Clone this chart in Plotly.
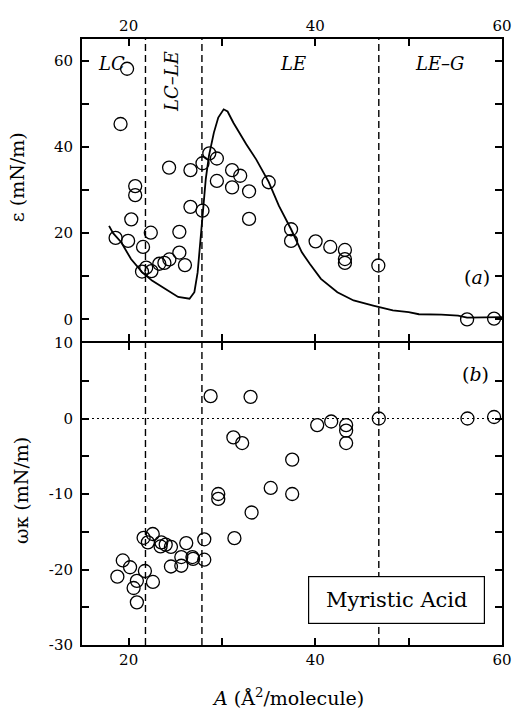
import plotly.graph_objects as go

# Continuous elasticity curve, panel (a)
curve_A = [17.9, 18.33, 19.2, 20.25, 21.46, 22.5, 23.9, 25.3, 26.52, 27.04,
           27.39, 27.73, 27.98, 28.26, 28.6, 29.13, 29.6, 30.18, 30.6, 31.22, 32.6,
           33.66, 35.0, 36.1, 37.4, 38.54, 39.4, 40.6, 42.36, 44.1, 46.2, 48.3, 50.0,
           51.1, 53.5, 55.3, 56.26, 59.4, 60.0]
curve_eps = [21.7, 20.0, 17.9, 14.0, 10.9, 9.0, 7.1, 5.2, 4.8, 6.3,
             10.9, 19.4, 25.6, 32.5, 37.9, 43.3, 46.8, 48.7, 48.2, 45.6, 40.6,
             37.1, 31.9, 26.3, 20.9, 15.6, 12.9, 9.4, 6.3, 4.4, 3.2, 2.1, 1.7,
             1.2, 1.1, 0.9, 0.4, 0.55, 0.55]

# Measured elasticity ε, panel (a)
eps_A = [19.83, 19.13, 18.6, 19.94, 20.28, 20.7, 20.7, 21.54, 21.43, 21.88, 22.44,
         22.37, 23.28, 23.83, 24.36, 24.33, 25.43, 25.43, 26.03, 26.62, 26.62, 27.91,
         27.91, 28.64, 29.45, 29.45, 31.08, 31.08, 31.95, 32.9, 32.9, 35.0, 37.4,
         37.4, 40.03, 41.6, 43.17, 43.17, 43.17, 46.75, 56.26, 59.15]
eps_val = [58.1, 45.3, 18.9, 18.2, 23.2, 30.9, 28.8, 16.8, 11.1, 12.0, 11.2,
           20.1, 12.9, 13.1, 13.9, 35.2, 20.3, 15.5, 12.6, 26.1, 34.6, 36.2,
           25.2, 38.5, 37.3, 32.1, 34.6, 30.6, 33.3, 29.7, 23.3, 31.8, 20.9,
           18.2, 18.1, 16.8, 16.1, 14.0, 13.1, 12.5, 0.0, 0.2]

# Measured ωκ, panel (b)
wk_A = [28.78, 33.06, 31.22, 32.16, 37.52, 35.22, 37.52, 29.6, 29.6, 33.17, 31.33,
        28.1, 28.1, 26.83, 26.9, 26.17, 25.64, 25.64, 24.53, 24.53, 23.97, 23.49,
        23.42, 22.58, 22.06, 21.6, 21.74, 22.6, 20.88, 20.53, 20.88, 20.15, 19.37,
        18.79, 40.2, 41.7, 43.3, 43.3, 43.3, 46.8, 56.3, 59.15]
wk_val = [2.96, 2.87, -2.5, -3.25, -5.45, -9.2, -10.0, -10.0, -10.65, -12.45, -15.85,
          -16.0, -18.7, -18.35, -18.6, -16.5, -18.35, -19.5, -19.6, -17.0, -16.7, -16.4,
          -16.95, -15.3, -16.4, -15.8, -20.2, -21.65, -21.5, -22.45, -24.35, -19.7, -18.8,
          -20.95, -0.87, -0.4, -0.87, -1.6, -3.25, 0.0, 0.0, 0.2]

# Phase boundaries (Å²/molecule) and region names
phase_bounds = [21.8, 27.85, 46.8]
phase_labels = ["LC", "LC–LE", "LE", "LE–G"]
phase_label_A = [18.2, 24.57, 37.6, 53.25]

# Tick positions; unlabeled ones are intermediate ticks
x_ticks = [20, 30, 40, 50, 60]
x_ticktext = ["20", "", "40", "", "60"]
eps_ticks = [0, 10, 20, 30, 40, 50, 60]
eps_ticktext = ["0", "", "20", "", "40", "", "60"]
wk_ticks = [-30, -25, -20, -15, -10, -5, 0, 5, 10]
wk_ticktext = ["-30", "", "-20", "", "-10", "", "0", "", "10"]

SERIF = "DejaVu Serif"
marker_style = dict(symbol="circle-open", size=13, color="black",
                    line=dict(width=1.3, color="black"))

fig = go.Figure()
fig.add_trace(go.Scatter(x=curve_A, y=curve_eps, mode="lines",
                         line=dict(color="black", width=1.8), xaxis="x2", yaxis="y2",
                         showlegend=False))
fig.add_trace(go.Scatter(x=eps_A, y=eps_val, mode="markers", marker=marker_style,
                         xaxis="x2", yaxis="y2", showlegend=False))
fig.add_trace(go.Scatter(x=wk_A, y=wk_val, mode="markers", marker=marker_style,
                         xaxis="x", yaxis="y", showlegend=False))

shapes = []
for b in phase_bounds:
    shapes.append(dict(type="line", xref="x", yref="paper", x0=b, x1=b, y0=0, y1=1,
                       line=dict(color="black", width=1.4, dash="7px,4px")))
shapes.append(dict(type="line", xref="x", yref="y", x0=15, x1=60, y0=0, y1=0,
                   line=dict(color="black", width=1.2, dash="2px,3px")))

annotations = []
for lbl, a in zip(phase_labels, phase_label_A):
    if lbl == "LC–LE":
        annotations.append(dict(x=a, y=55.1, xref="x2", yref="y2", text=f"<i>{lbl}</i>",
                                showarrow=False, textangle=-90,
                                font=dict(family=SERIF, size=18, color="black")))
    else:
        annotations.append(dict(x=a, y=59.4, xref="x2", yref="y2", text=f"<i>{lbl}</i>",
                                showarrow=False,
                                font=dict(family=SERIF, size=18, color="black")))
annotations += [
    dict(x=57.3, y=9.8, xref="x2", yref="y2", text="(<i>a</i>)", showarrow=False,
         font=dict(family=SERIF, size=19, color="black")),
    dict(x=57.2, y=5.9, xref="x", yref="y", text="(<i>b</i>)", showarrow=False,
         font=dict(family=SERIF, size=19, color="black")),
    dict(x=48.67, y=-24.0, xref="x", yref="y", text="Myristic Acid", showarrow=False,
         width=155, height=26, borderpad=10,
         font=dict(family=SERIF, size=21, color="black"), bordercolor="black",
         borderwidth=1.2, bgcolor="white"),
    dict(x=0, y=0.772, xref="paper", yref="paper", xshift=-65, xanchor="center",
         yanchor="middle", text="ε (mN/m)", textangle=-90, showarrow=False,
         font=dict(family=SERIF, size=19, color="black")),
    dict(x=0, y=0.254, xref="paper", yref="paper", xshift=-61, xanchor="center",
         yanchor="middle", text="ωκ (mN/m)", textangle=-90, showarrow=False,
         font=dict(family=SERIF, size=19, color="black")),
    dict(x=0.49, y=0, xref="paper", yref="paper", yshift=-52, yanchor="middle",
         text="<i>A</i> (Å<sup>2</sup>/molecule)", showarrow=False,
         font=dict(family=SERIF, size=19, color="black")),
]

axis_common = dict(showline=True, linecolor="black", linewidth=2, mirror="ticks",
                   ticks="inside", ticklen=7, tickwidth=1.5, tickcolor="black",
                   showgrid=False, zeroline=False, ticklabeloverflow="allow",
                   tickfont=dict(family=SERIF, size=15, color="black"))

px = 1.0 / 606  # one pixel of plot height in paper units

fig.update_layout(
    width=519, height=713,
    margin=dict(l=82, r=7, t=39, b=68),
    paper_bgcolor="white", plot_bgcolor="white",
    shapes=shapes, annotations=annotations,
    xaxis=dict(domain=[0, 1], range=[15, 60], anchor="y", tickvals=x_ticks,
               ticktext=x_ticktext, **axis_common),
    yaxis=dict(domain=[0, 0.5 - px], range=[-30, 10], anchor="x", tickvals=wk_ticks,
               ticktext=wk_ticktext, ticklabelstandoff=4, **axis_common),
    xaxis2=dict(domain=[0, 1], range=[15, 60], anchor="y2", side="top", matches="x",
                tickvals=x_ticks, ticktext=x_ticktext, **axis_common),
    yaxis2=dict(domain=[0.5 + px, 1], range=[-5, 65], anchor="x2", tickvals=eps_ticks,
                ticktext=eps_ticktext, ticklabelstandoff=4, **axis_common),
)

fig.write_html("out.html")
